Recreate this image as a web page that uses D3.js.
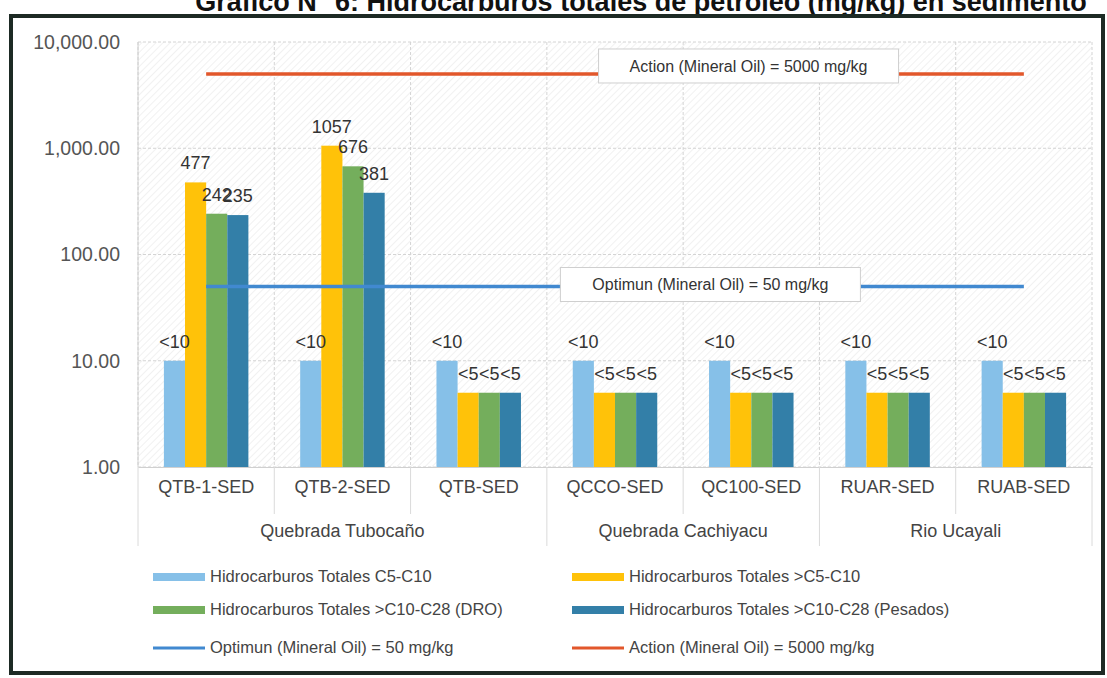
<!DOCTYPE html>
<html>
<head>
<meta charset="utf-8">
<script src="https://cdn.jsdelivr.net/npm/d3@7"></script>
<style>
  body { margin: 0; background: #fff; }
  svg text { font-family: "Liberation Sans", Arial, sans-serif; }
</style>
</head>
<body>
<svg width="1107" height="678"></svg>
<script>
// data
var categories = ["QTB-1-SED", "QTB-2-SED", "QTB-SED", "QCCO-SED", "QC100-SED", "RUAR-SED", "RUAB-SED"];
var groupNames = ["Quebrada Tubocaño", "Quebrada Cachiyacu", "Rio Ucayali"];
var groupSpans = [3, 2, 2];
var seriesNames = ["Hidrocarburos Totales C5-C10", "Hidrocarburos Totales >C5-C10",
                   "Hidrocarburos Totales >C10-C28 (DRO)", "Hidrocarburos Totales >C10-C28 (Pesados)"];
var c5c10   = [10, 10, 10, 10, 10, 10, 10];
var gtC5C10 = [477, 1057, 5, 5, 5, 5, 5];
var dro     = [242, 676, 5, 5, 5, 5, 5];
var pesados = [235, 381, 5, 5, 5, 5, 5];
var c5c10Labels   = ["<10", "<10", "<10", "<10", "<10", "<10", "<10"];
var gtC5C10Labels = ["477", "1057", "<5", "<5", "<5", "<5", "<5"];
var droLabels     = ["242", "676", "<5", "<5", "<5", "<5", "<5"];
var pesadosLabels = ["235", "381", "<5", "<5", "<5", "<5", "<5"];
var optimumName = "Optimun (Mineral Oil) = 50 mg/kg", optimumValue = 50;
var actionName = "Action (Mineral Oil) = 5000 mg/kg", actionValue = 5000;
var yTicks = [1, 10, 100, 1000, 10000];

var seriesValues = [c5c10, gtC5C10, dro, pesados];
var seriesLabels = [c5c10Labels, gtC5C10Labels, droLabels, pesadosLabels];
var colors = ["#86C0E8", "#FFC209", "#74AE5C", "#337FA8"];
var optColor = "#4189D0", actColor = "#E2572B";

var svg = d3.select("svg");

// title (cut at the top as in the scan)
svg.append("text")
    .attr("x", 641).attr("y", 11)
    .attr("text-anchor", "middle")
    .style("font-size", "27px").style("font-weight", "bold").attr("fill", "#111")
    .text("Gráfico N° 6: Hidrocarburos totales de petróleo (mg/kg) en sedimento");

// frame
svg.append("rect")
    .attr("x", 11).attr("y", 16).attr("width", 1092).attr("height", 657)
    .attr("fill", "#fff").attr("stroke", "#1d2a24").attr("stroke-width", 4);

var plotLeft = 138, plotRight = 1092, plotTop = 42, plotBottom = 467;

var x = d3.scaleBand().domain(categories).range([plotLeft, plotRight]);
var bw = x.bandwidth();
var x1 = d3.scaleBand().domain(d3.range(seriesNames.length)).range([bw * 0.19, bw * 0.81]);
var y = d3.scaleLog().domain([1, 10000]).range([plotBottom, plotTop]);

// hatch background
var defs = svg.append("defs");
var pat = defs.append("pattern").attr("id", "hatch").attr("patternUnits", "userSpaceOnUse")
    .attr("width", 5).attr("height", 5).attr("patternTransform", "rotate(45)");
pat.append("line").attr("x1", 0).attr("y1", 0).attr("x2", 0).attr("y2", 5)
    .attr("stroke", "#e8e8e8").attr("stroke-width", 1.2);
svg.append("rect").attr("x", plotLeft).attr("y", plotTop)
    .attr("width", plotRight - plotLeft).attr("height", plotBottom - plotTop)
    .attr("fill", "url(#hatch)");

// gridlines
svg.append("g").selectAll("line").data(yTicks).join("line")
    .attr("x1", plotLeft).attr("x2", plotRight)
    .attr("y1", function(d) { return y(d); }).attr("y2", function(d) { return y(d); })
    .attr("stroke", "#d4d4d4").attr("stroke-dasharray", "3,2");
svg.append("g").selectAll("line").data(d3.range(categories.length + 1)).join("line")
    .attr("x1", function(i) { return plotLeft + i * bw; }).attr("x2", function(i) { return plotLeft + i * bw; })
    .attr("y1", plotTop).attr("y2", plotBottom)
    .attr("stroke", "#d4d4d4").attr("stroke-dasharray", "3,2");
svg.append("line").attr("x1", plotLeft).attr("x2", plotLeft).attr("y1", plotTop).attr("y2", plotBottom)
    .attr("stroke", "#d0d0d0");

// y axis
var yAxis = d3.axisLeft(y).tickValues(yTicks).tickFormat(d3.format(",.2f")).tickSize(0).tickPadding(18);
var ya = svg.append("g").attr("transform", "translate(" + plotLeft + ",0)").call(yAxis);
ya.select(".domain").remove();
ya.selectAll("text").style("font-size", "19.5px").attr("fill", "#555")
    .style("font-family", "'Liberation Sans', Arial, sans-serif");

// x axis
var xAxis = d3.axisBottom(x).tickSize(0).tickPadding(13);
var xa = svg.append("g").attr("transform", "translate(0," + plotBottom + ")").call(xAxis);
xa.select(".domain").attr("stroke", "#d0d0d0");
xa.selectAll("text").style("font-size", "18px").attr("fill", "#444")
    .style("font-family", "'Liberation Sans', Arial, sans-serif");

// category / group dividers under the axis
var groupEnds = [];
groupSpans.reduce(function(acc, s) { groupEnds.push(acc + s); return acc + s; }, 0);
svg.append("g").selectAll("line").data(d3.range(categories.length + 1)).join("line")
    .attr("x1", function(i) { return plotLeft + i * bw; }).attr("x2", function(i) { return plotLeft + i * bw; })
    .attr("y1", plotBottom)
    .attr("y2", function(i) { return (i === 0 || groupEnds.indexOf(i) >= 0) ? 546 : 514; })
    .attr("stroke", "#dadada");

var gStart = 0;
groupNames.forEach(function(name, i) {
  var cx = plotLeft + (gStart + groupSpans[i] / 2) * bw;
  svg.append("text").attr("x", cx).attr("y", 537).attr("text-anchor", "middle")
      .style("font-size", "18px").attr("fill", "#444").text(name);
  gStart += groupSpans[i];
});

// bars
seriesValues.forEach(function(vals, s) {
  svg.append("g").selectAll("rect").data(vals).join("rect")
      .attr("x", function(d, i) { return x(categories[i]) + x1(s); })
      .attr("width", x1.bandwidth())
      .attr("y", function(d) { return y(d); })
      .attr("height", function(d) { return y(1) - y(d); })
      .attr("fill", colors[s]);
});

// reference lines
function refLine(val, color) {
  svg.append("line")
      .attr("x1", x(categories[0]) + bw / 2).attr("x2", x(categories[categories.length - 1]) + bw / 2)
      .attr("y1", y(val)).attr("y2", y(val))
      .attr("stroke", color).attr("stroke-width", 3.5);
}
refLine(optimumValue, optColor);
refLine(actionValue, actColor);

// data labels
seriesValues.forEach(function(vals, s) {
  svg.append("g").selectAll("text").data(vals).join("text")
      .attr("x", function(d, i) { return x(categories[i]) + x1(s) + x1.bandwidth() / 2; })
      .attr("y", function(d) { return y(d) - 13; })
      .attr("text-anchor", "middle")
      .style("font-size", "18px").attr("fill", "#333")
      .text(function(d, i) { return seriesLabels[s][i]; });
});

// boxed labels for the reference lines
function refBox(val, name, cx, dy) {
  var w = 300, h = 34;
  var cy = y(val) + dy;
  svg.append("rect").attr("x", cx - w / 2).attr("y", cy - h / 2).attr("width", w).attr("height", h)
      .attr("fill", "#fff").attr("stroke", "#cfcfcf");
  svg.append("text").attr("x", cx).attr("y", cy + 6).attr("text-anchor", "middle")
      .style("font-size", "16px").attr("fill", "#333").text(name);
}
refBox(actionValue, actionName, plotLeft + (plotRight - plotLeft) * 0.64, -8);
refBox(optimumValue, optimumName, plotLeft + (plotRight - plotLeft) * 0.6, -2);

// legend
var legendItems = seriesNames.map(function(n, i) { return { name: n, color: colors[i], type: "bar" }; })
    .concat([{ name: optimumName, color: optColor, type: "line" },
             { name: actionName, color: actColor, type: "line" }]);
var rowY = [577, 610, 648], colX = [153, 572];
legendItems.forEach(function(d, i) {
  var lx = colX[i % 2], ly = rowY[Math.floor(i / 2)];
  if (d.type === "bar") {
    svg.append("rect").attr("x", lx).attr("y", ly - 4).attr("width", 52).attr("height", 8).attr("fill", d.color);
  } else {
    svg.append("line").attr("x1", lx).attr("x2", lx + 52).attr("y1", ly).attr("y2", ly)
        .attr("stroke", d.color).attr("stroke-width", 3);
  }
  svg.append("text").attr("x", lx + 57).attr("y", ly + 5)
      .style("font-size", "16.5px").attr("fill", "#444").text(d.name);
});
</script>
</body>
</html>
